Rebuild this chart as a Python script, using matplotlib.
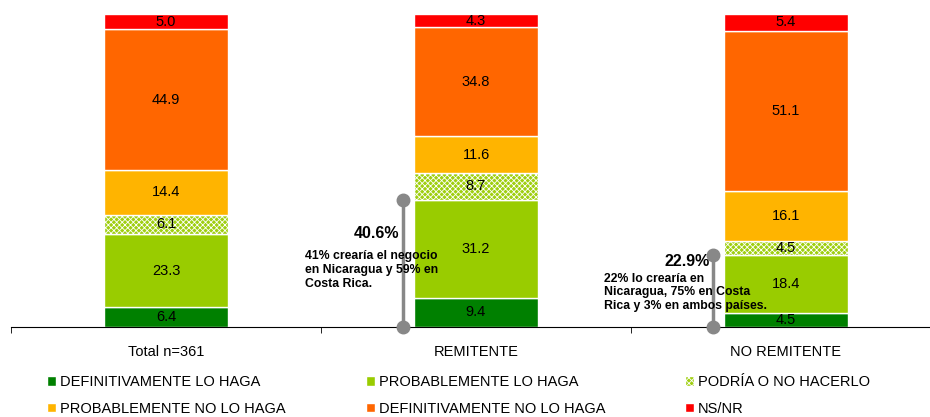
import numpy as np
import matplotlib.pyplot as plt

plt.rcParams['font.family'] = ['Liberation Sans', 'DejaVu Sans']
plt.rcParams['hatch.linewidth'] = 0.6

# datos
categorias = ["Total n=361", "REMITENTE", "NO REMITENTE"]
series = ["DEFINITIVAMENTE LO HAGA", "PROBABLEMENTE LO HAGA", "PODRÍA O NO HACERLO",
          "PROBABLEMENTE NO LO HAGA", "DEFINITIVAMENTE NO LO HAGA", "NS/NR"]
def_si = [6.4, 9.4, 4.5]
prob_si = [23.3, 31.2, 18.4]
podria = [6.1, 8.7, 4.5]
prob_no = [14.4, 11.6, 16.1]
def_no = [44.9, 34.8, 51.1]
nsnr = [5.0, 4.3, 5.4]
notas = ["41% crearía el negocio\nen Nicaragua y 59% en\nCosta Rica.",
         "22% lo crearía en\nNicaragua, 75% en Costa\nRica y 3% en ambos países."]

valores = [def_si, prob_si, podria, prob_no, def_no, nsnr]
colores = ['#008000', '#99CC00', '#9FCF10', '#FFB400', '#FF6600', '#FF0000']
tramas = [None, None, 'xxxxxx', None, None, None]

fig = plt.figure(figsize=(9.3, 4.17), dpi=100)
ax = fig.add_axes([11/930, 1 - 327/417, 930/930, 313/417])

x = np.arange(len(categorias))
ancho = 0.4
base = np.zeros(len(categorias))
barras = []
for vals, nombre, col, tr in zip(valores, series, colores, tramas):
    b = ax.bar(x, vals, ancho, bottom=base, color=col, edgecolor='white',
               linewidth=1, hatch=tr, label=nombre)
    ax.bar_label(b, labels=[f"{v:.1f}" for v in vals], label_type='center', fontsize=10.5)
    barras.append(b)
    base += np.array(vals)

# lineas de anotacion (definitivamente + probablemente)
suma = np.array(def_si) + np.array(prob_si)
for i in [1, 2]:
    xl = i - ancho / 2 - 0.035
    ax.plot([xl, xl], [0, suma[i]], color='#888888', lw=2.5, marker='o', ms=9,
            clip_on=False, zorder=4)
ax.text(1 - ancho / 2 - 0.048, 30.0, f"{suma[1]:.1f}%", ha='right', va='center',
        fontsize=11.5, fontweight='bold', zorder=5)
ax.text(2 - ancho / 2 - 0.045, 20.8, f"{suma[2]:.1f}%", ha='right', va='center',
        fontsize=11.5, fontweight='bold', zorder=5)
ax.text(0.448, 24.5, notas[0], ha='left', va='top', fontsize=8.8, fontweight='bold',
        linespacing=1.2, zorder=5)
ax.text(1.413, 17.4, notas[1], ha='left', va='top', fontsize=8.8, fontweight='bold',
        linespacing=1.2, zorder=5)

ax.set_xlim(-0.5, 2.5)
ax.set_ylim(0, 100)
for s in ['top', 'right', 'left']:
    ax.spines[s].set_visible(False)
ax.spines['bottom'].set_color('black')
ax.set_yticks([])
ax.set_xticks(x, categorias, fontsize=10.5)
ax.tick_params(axis='x', which='major', length=0, pad=13)
ax.set_xticks([-0.5, 0.5, 1.5, 2.5], minor=True)
ax.tick_params(axis='x', which='minor', length=4, direction='out', color='black')

# leyenda en tres columnas
cols_x = [47, 366, 685]
for j in range(3):
    h = [barras[j], barras[j + 3]]
    fig.legend(h, [series[j], series[j + 3]], loc='center left',
               bbox_to_anchor=(cols_x[j] / 930, 1 - 395.5 / 417), frameon=False,
               fontsize=10.5, handlelength=0.6, handleheight=0.65, handletextpad=0.3,
               labelspacing=0.85, borderpad=0, borderaxespad=0)

plt.savefig('out.png', dpi=100)
